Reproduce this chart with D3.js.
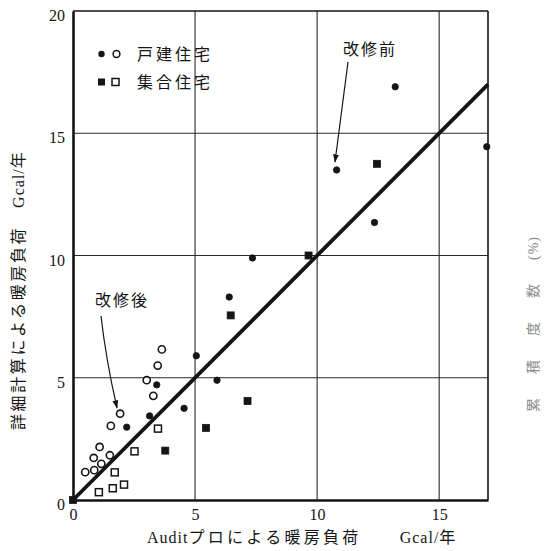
<!DOCTYPE html>
<html><head><meta charset="utf-8">
<script src="https://cdn.jsdelivr.net/npm/d3@7/dist/d3.min.js"></script>
<style>body{margin:0;background:#fff}svg{display:block}</style>
</head><body>
<script>
// Data (x: Auditプロ, y: 詳細計算), Gcal/年
const detachedBeforeX = [13.2, 10.8, 12.35, 16.95, 7.35, 6.4, 5.05, 5.9, 4.55, 3.43, 3.14, 2.2];
const detachedBeforeY = [16.9, 13.5, 11.35, 14.45, 9.9, 8.3, 5.9, 4.9, 3.75, 4.71, 3.44, 2.98];
const detachedAfterX = [3.64, 3.47, 3.02, 3.29, 1.93, 1.55, 1.09, 0.85, 1.51, 1.16, 0.87, 0.5];
const detachedAfterY = [6.16, 5.5, 4.9, 4.26, 3.53, 3.03, 2.17, 1.72, 1.83, 1.48, 1.22, 1.14];
const multiBeforeX = [12.45, 9.65, 6.46, 7.15, 5.45, 3.78, 0];
const multiBeforeY = [13.75, 10.0, 7.55, 4.05, 2.95, 2.02, 0];
const multiAfterX = [3.48, 2.52, 1.71, 2.09, 1.63, 1.06];
const multiAfterY = [2.92, 1.99, 1.13, 0.63, 0.48, 0.32];
const xTicks = [0, 5, 10, 15];
const yTicks = [0, 5, 10, 15, 20];
const gridVals = [5, 10, 15];
const fitLine = [[0, 0], [17, 17]];
const legendLabels = ["戸建住宅", "集合住宅"];

const W = 552, H = 551;
const svg = d3.select("body").append("svg").attr("width", W).attr("height", H);
svg.append("rect").attr("width", W).attr("height", H).attr("fill", "#fff");

const x = d3.scaleLinear().domain([0, 17]).range([73, 488]);
const y = d3.scaleLinear().domain([0, 20]).range([500, 11]);
const ink = "#151515";
const serif = "'Liberation Serif','DejaVu Serif',serif";
const jp = "'Noto Sans CJK JP','Noto Sans CJK SC',sans-serif";

// grid
svg.selectAll("line.gx").data(gridVals).join("line")
  .attr("x1", d => x(d)).attr("x2", d => x(d)).attr("y1", y(0)).attr("y2", y(20))
  .attr("stroke", "#2a2a2a").attr("stroke-width", 1.1);
svg.selectAll("line.gy").data(gridVals).join("line")
  .attr("x1", x(0)).attr("x2", x(17)).attr("y1", d => y(d)).attr("y2", d => y(d))
  .attr("stroke", "#2a2a2a").attr("stroke-width", 1.1);

// frame
svg.append("line").attr("x1", x(0)).attr("x2", x(17)).attr("y1", y(20)).attr("y2", y(20)).attr("stroke", ink).attr("stroke-width", 1.6);
svg.append("line").attr("x1", x(17)).attr("x2", x(17)).attr("y1", y(20)).attr("y2", y(0)).attr("stroke", ink).attr("stroke-width", 1.6);

// axes
const xAxis = d3.axisBottom(x).tickValues(xTicks).tickSize(0).tickPadding(9).tickFormat(d3.format("d"));
const gx = svg.append("g").attr("transform", `translate(0,${y(0)})`).call(xAxis);
gx.select(".domain").attr("stroke", ink).attr("stroke-width", 2.6);
gx.selectAll("text").attr("font-family", serif).attr("font-size", 16).attr("fill", ink);

const yAxis = d3.axisLeft(y).tickValues(yTicks).tickSize(0).tickPadding(8).tickFormat(d3.format("d"));
const gy = svg.append("g").attr("transform", `translate(${x(0)},0)`).call(yAxis);
gy.select(".domain").attr("stroke", ink).attr("stroke-width", 2.6);
gy.selectAll("text").attr("font-family", serif).attr("font-size", 16).attr("fill", ink).attr("dy", "0.6em");

// fit line
svg.append("path").datum(fitLine)
  .attr("d", d3.line().x(d => x(d[0])).y(d => y(d[1])))
  .attr("stroke", ink).attr("stroke-width", 3.8).attr("fill", "none");

// markers
function circles(xs, ys, filled) {
  svg.append("g").selectAll("circle").data(xs.map((v, i) => [v, ys[i]])).join("circle")
    .attr("cx", d => x(d[0])).attr("cy", d => y(d[1]))
    .attr("r", filled ? 3.2 : 3.6)
    .attr("fill", filled ? ink : "#fff").attr("stroke", ink).attr("stroke-width", filled ? 0.8 : 1.6);
}
function squares(xs, ys, filled) {
  const s = 7;
  svg.append("g").selectAll("rect").data(xs.map((v, i) => [v, ys[i]])).join("rect")
    .attr("x", d => x(d[0]) - s / 2).attr("y", d => y(d[1]) - s / 2)
    .attr("width", s).attr("height", s)
    .attr("fill", filled ? ink : "#fff").attr("stroke", ink).attr("stroke-width", filled ? 0.8 : 1.5);
}
circles(detachedAfterX, detachedAfterY, false);
circles(detachedBeforeX, detachedBeforeY, true);
squares(multiAfterX, multiAfterY, false);
squares(multiBeforeX, multiBeforeY, true);

// legend
const lg = svg.append("g");
lg.append("circle").attr("cx", 101.5).attr("cy", 54).attr("r", 3.2).attr("fill", ink);
lg.append("circle").attr("cx", 116.5).attr("cy", 54).attr("r", 3.4).attr("fill", "#fff").attr("stroke", ink).attr("stroke-width", 1.5);
lg.append("rect").attr("x", 98).attr("y", 78.5).attr("width", 7).attr("height", 7).attr("fill", ink);
lg.append("rect").attr("x", 112).attr("y", 78.5).attr("width", 7).attr("height", 7).attr("fill", "#fff").attr("stroke", ink).attr("stroke-width", 1.5);
lg.selectAll("text").data(legendLabels).join("text")
  .attr("x", 137).attr("y", (d, i) => 60 + i * 28)
  .attr("font-family", jp).attr("font-size", 16).attr("letter-spacing", 3).attr("fill", ink)
  .text(d => d);

// annotations
const defs = svg.append("defs");
defs.append("marker").attr("id", "ah").attr("viewBox", "0 0 10 10").attr("refX", 9).attr("refY", 5)
  .attr("markerWidth", 7).attr("markerHeight", 9).attr("orient", "auto")
  .append("path").attr("d", "M0,1.5 L10,5 L0,8.5 Z").attr("fill", ink);

svg.append("text").attr("x", 343).attr("y", 55).attr("font-family", jp).attr("font-size", 16)
  .attr("letter-spacing", 2).attr("fill", ink).text("改修前");
svg.append("path").attr("d", "M348,62 L335,162").attr("stroke", ink).attr("stroke-width", 1.2)
  .attr("fill", "none").attr("marker-end", "url(#ah)");

svg.append("text").attr("x", 95).attr("y", 306).attr("font-family", jp).attr("font-size", 16)
  .attr("letter-spacing", 2).attr("fill", ink).text("改修後");
svg.append("path").attr("d", "M101,316 Q106,360 117,408").attr("stroke", ink).attr("stroke-width", 1.2)
  .attr("fill", "none").attr("marker-end", "url(#ah)");

// axis titles
const xt = svg.append("text").attr("x", 147).attr("y", 543).attr("fill", ink).attr("font-size", 16);
xt.append("tspan").attr("font-family", serif).attr("letter-spacing", 1).text("Audit");
xt.append("tspan").attr("font-family", jp).attr("letter-spacing", 3.3).text("プロによる暖房負荷");
xt.append("tspan").attr("dx", 38).attr("font-family", serif).attr("letter-spacing", 1).text("Gcal/");
xt.append("tspan").attr("font-family", jp).text("年");

const yt = svg.append("text").attr("transform", "translate(24,430) rotate(-90)").attr("fill", ink).attr("font-size", 16);
yt.append("tspan").attr("font-family", jp).attr("letter-spacing", 2.6).text("詳細計算による暖房負荷");
yt.append("tspan").attr("dx", 18).attr("font-family", serif).attr("letter-spacing", 1).text("Gcal/");
yt.append("tspan").attr("font-family", jp).text("年");

const rt = svg.append("text").attr("transform", "translate(538,412) rotate(-90)").attr("fill", "#8a8a8a")
  .attr("font-size", 14);
rt.append("tspan").attr("font-family", jp).attr("letter-spacing", 24).text("累積度数");
rt.append("tspan").attr("font-family", serif).attr("letter-spacing", 1).text("(%)");
</script>
</body></html>
